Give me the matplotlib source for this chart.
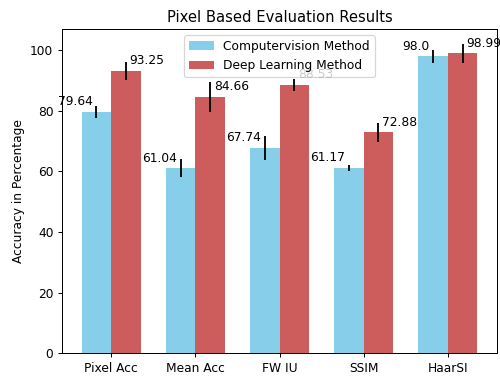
import matplotlib
matplotlib.use("Agg")
import matplotlib.pyplot as plt
import numpy as np

categories = ["Pixel Acc", "Mean Acc", "FW IU", "SSIM", "HaarSI"]
cv_values = [79.64, 61.04, 67.74, 61.17, 98.0]
dl_values = [93.25, 84.66, 88.53, 72.88, 98.99]
cv_err = [2, 3, 4, 1, 2]
dl_err = [3, 5, 2, 3, 3]

x = np.arange(len(categories))
w = 0.35

DPI = 88.5
fig, ax = plt.subplots(figsize=(500 / DPI, 376 / DPI), dpi=DPI)
fig.subplots_adjust(left=0.124, right=0.994, top=0.923, bottom=0.061)

r1 = ax.bar(x - w/2, cv_values, w, yerr=cv_err, color="skyblue", label="Computervision Method")
r2 = ax.bar(x + w/2, dl_values, w, yerr=dl_err, color="indianred", label="Deep Learning Method")

def autolabel(rects, ha, off):
    for rect in rects:
        h = rect.get_height()
        ax.annotate(f"{h}", xy=(rect.get_x() + rect.get_width()/2, h),
                    xytext=(off, 3), textcoords="offset points", ha=ha, va="bottom")

autolabel(r1, "right", -3)
autolabel(r2, "left", 3)

ax.set_ylabel("Accuracy in Percentage")
ax.set_title("Pixel Based Evaluation Results")
ax.set_xticks(x)
ax.set_xticklabels(categories)
ax.legend(loc="upper center")

fig.savefig("out.png", dpi=DPI)
